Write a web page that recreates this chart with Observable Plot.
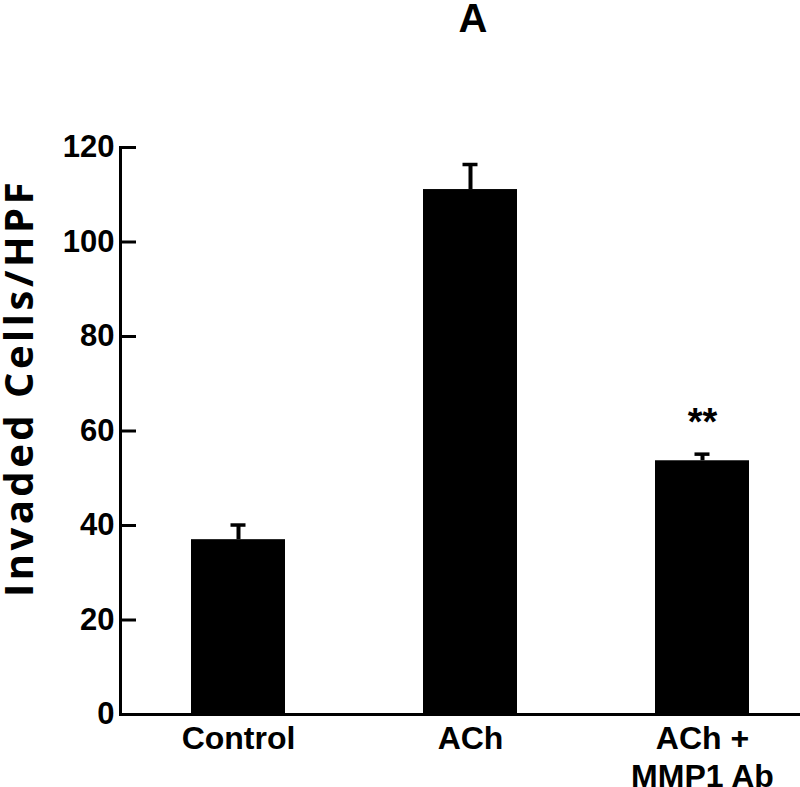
<!DOCTYPE html>
<html><head>
<meta charset="utf-8">
<script src="https://cdn.jsdelivr.net/npm/d3@7"></script>
<script src="https://cdn.jsdelivr.net/npm/@observablehq/plot@0.6"></script>
<style>
html,body{margin:0;padding:0;background:#fff;}
#chart{position:relative;width:800px;height:787px;}
</style>
</head><body>
<div id="chart"></div>
<script>
const categories = ["Control", "ACh", "ACh +\nMMP1 Ab"];
const means = [37.0, 111.1, 53.7];
const errors = [3.1, 5.3, 1.4];
const significance = ["", "", "**"];
const yTicks = [0, 20, 40, 60, 80, 100, 120];
const title = "A";
const yLabel = "Invaded Cells/HPF";

const data = categories.map((c, i) => ({cat: c, mean: means[i], err: errors[i], top: means[i] + errors[i], sig: significance[i]}));

const plot = Plot.plot({
  width: 800, height: 787,
  marginTop: 147, marginBottom: 73, marginLeft: 120, marginRight: 0,
  style: {background: "#fff", color: "#000", fontFamily: "'Liberation Sans', Arial, sans-serif", fontWeight: "bold", overflow: "visible"},
  x: {domain: categories, paddingInner: 0.595, paddingOuter: 0.263, align: 0.582, label: null},
  y: {domain: [0, 120], label: null},
  marks: [
    Plot.ruleX(data, {x: "cat", y1: "mean", y2: "top", stroke: "#000", strokeWidth: 4}),
    Plot.tickY(data, {x: "cat", y: "top", stroke: "#000", strokeWidth: 3.5, insetLeft: 39.5, insetRight: 39.5}),
    Plot.barY(data, {x: "cat", y: "mean", fill: "#000"}),
    Plot.text(data, {x: "cat", y: "top", text: "sig", lineAnchor: "top", dy: -46, fontSize: 38, fontWeight: "bold", fill: "#000"}),
    Plot.axisY({ticks: yTicks, tickSize: -16, tickPadding: 22, strokeWidth: 3, fontSize: 31, fontWeight: "bold", label: null, tickFormat: d => d}),
    Plot.axisX({tickSize: 0, tickPadding: 8, fontSize: 32, lineHeight: 1.17, fontWeight: "bold", label: null}),
    Plot.frame({anchor: "left", strokeWidth: 3}),
    Plot.frame({anchor: "bottom", strokeWidth: 3})
  ]
});

document.getElementById("chart").appendChild(plot);
const svg = d3.select(plot);
svg.append("text")
  .attr("x", 473).attr("y", 32)
  .attr("text-anchor", "middle")
  .style("font-family", "'Liberation Sans', Arial, sans-serif")
  .style("font-weight", "bold").style("font-size", "40px")
  .attr("fill", "#000")
  .text(title);
svg.append("text")
  .attr("transform", "translate(33,388) rotate(-90)")
  .attr("text-anchor", "middle")
  .style("font-family", "'Open Sans', sans-serif")
  .style("font-weight", "bold").style("font-size", "40px")
  .style("letter-spacing", "3.5px")
  .attr("fill", "#000")
  .text(yLabel);
</script>
</body></html>
